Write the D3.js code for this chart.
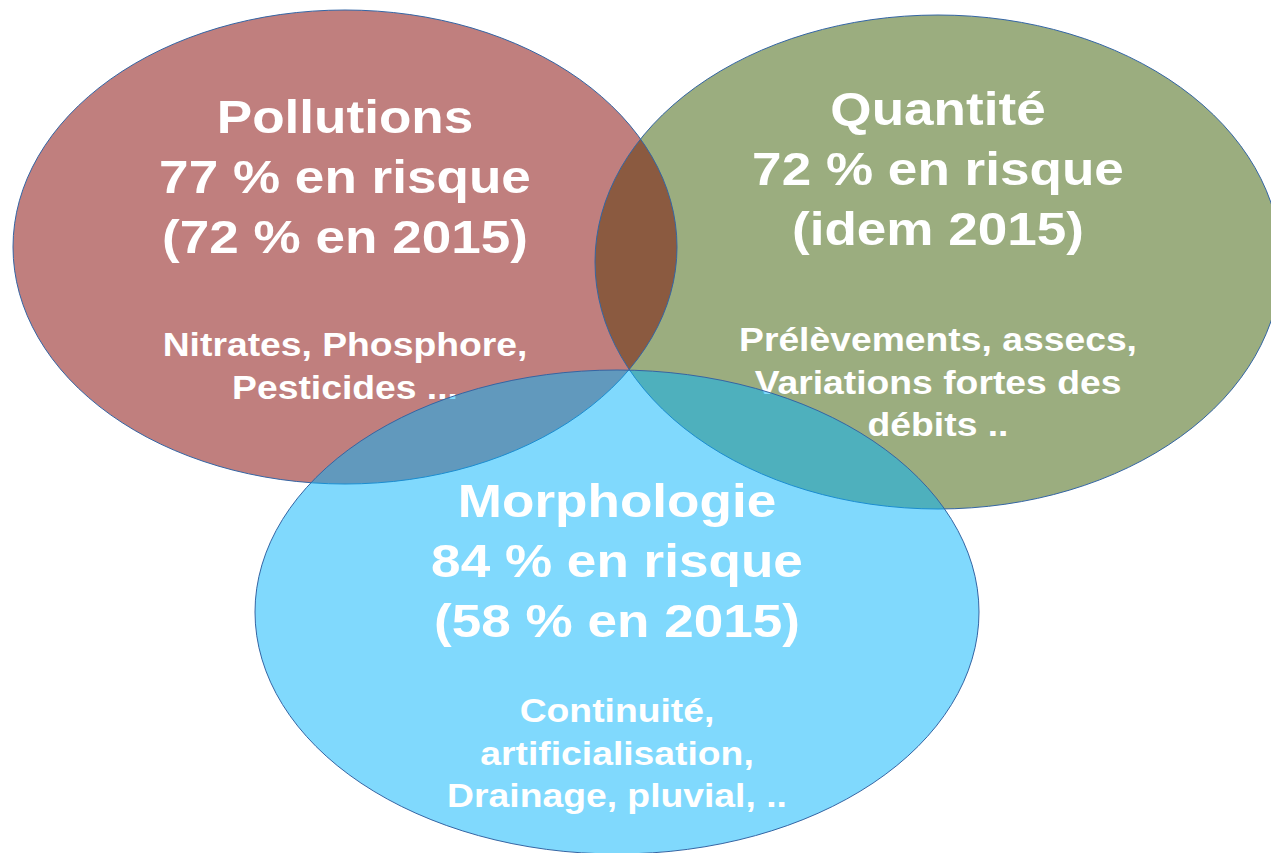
<!DOCTYPE html>
<html>
<head>
<meta charset="utf-8">
<script src="https://cdn.jsdelivr.net/npm/d3@7"></script>
<style>
  html, body { margin: 0; padding: 0; background: #fff; }
  svg { display: block; }
</style>
</head>
<body>
<div id="chart"></div>
<script>
// Categories and the values shown for each one
var categories = ['Pollutions', 'Quantité', 'Morphologie'];
var riskNow = [77, 72, 84];            // % en risque
var risk2015 = ['72 % en 2015', 'idem 2015', '58 % en 2015'];
var pressures = [
    ['Nitrates, Phosphore,', 'Pesticides ...'],
    ['Prélèvements, assecs,', 'Variations fortes des', 'débits ..'],
    ['Continuité,', 'artificialisation,', 'Drainage, pluvial, ..']
];

// Layout of each ellipse (pixels)
var shapes = [
    { cx: 345, cy: 247, rx: 332, ry: 237, fill: '#c07f7e', titleY: 133, subY: 356 },
    { cx: 938, cy: 262, rx: 343, ry: 247, fill: '#9bad7f', titleY: 125, subY: 351 },
    { cx: 617, cy: 612, rx: 362, ry: 242, fill: 'rgb(1,179,251)', titleY: 517, subY: 722 }
];

var width = 1271, height = 853;
var stroke = '#3465a4';
var titleSize = 47, subSize = 33, stretch = 1.13;

var svg = d3.select('#chart').append('svg')
    .attr('width', width)
    .attr('height', height);

var defs = svg.append('defs');
defs.append('clipPath').attr('id', 'clip-green')
    .append('ellipse')
    .attr('cx', shapes[1].cx).attr('cy', shapes[1].cy)
    .attr('rx', shapes[1].rx).attr('ry', shapes[1].ry);

// Red and green fills
svg.selectAll('.base')
    .data(shapes.slice(0, 2))
    .enter()
    .append('ellipse')
    .attr('class', 'base')
    .attr('cx', d => d.cx).attr('cy', d => d.cy)
    .attr('rx', d => d.rx).attr('ry', d => d.ry)
    .attr('fill', d => d.fill);

// Overlap of red and green
svg.append('ellipse')
    .attr('cx', shapes[0].cx).attr('cy', shapes[0].cy)
    .attr('rx', shapes[0].rx).attr('ry', shapes[0].ry)
    .attr('clip-path', 'url(#clip-green)')
    .attr('fill', '#8b5a40');

// Outlines on top of the fills
svg.selectAll('.outline')
    .data(shapes.slice(0, 2))
    .enter()
    .append('ellipse')
    .attr('class', 'outline')
    .attr('cx', d => d.cx).attr('cy', d => d.cy)
    .attr('rx', d => d.rx).attr('ry', d => d.ry)
    .attr('fill', 'none')
    .attr('stroke', stroke)
    .attr('stroke-width', 1);

function drawText(i) {
    var s = shapes[i];
    var lines = [
        { t: categories[i], size: titleSize, y: s.titleY },
        { t: riskNow[i] + ' % en risque', size: titleSize, y: s.titleY + 60 },
        { t: '(' + risk2015[i] + ')', size: titleSize, y: s.titleY + 120 }
    ];
    pressures[i].forEach((p, k) => {
        lines.push({ t: p, size: subSize, y: s.subY + k * 42.5 });
    });
    var g = svg.append('g');
    g.selectAll('text')
        .data(lines)
        .enter()
        .append('text')
        .attr('transform', d => 'translate(' + s.cx + ',' + d.y + ') scale(' + stretch + ',1)')
        .attr('text-anchor', 'middle')
        .attr('font-family', '"Liberation Sans", Arial, sans-serif')
        .attr('font-weight', 'bold')
        .attr('font-size', d => d.size)
        .attr('fill', '#fff')
        .text(d => d.t);
}

drawText(0);
drawText(1);

// Blue ellipse, half transparent over the others
svg.append('ellipse')
    .attr('cx', shapes[2].cx).attr('cy', shapes[2].cy)
    .attr('rx', shapes[2].rx).attr('ry', shapes[2].ry)
    .attr('fill', shapes[2].fill)
    .attr('fill-opacity', 0.5)
    .attr('stroke', stroke)
    .attr('stroke-width', 1);

drawText(2);
</script>
</body>
</html>
